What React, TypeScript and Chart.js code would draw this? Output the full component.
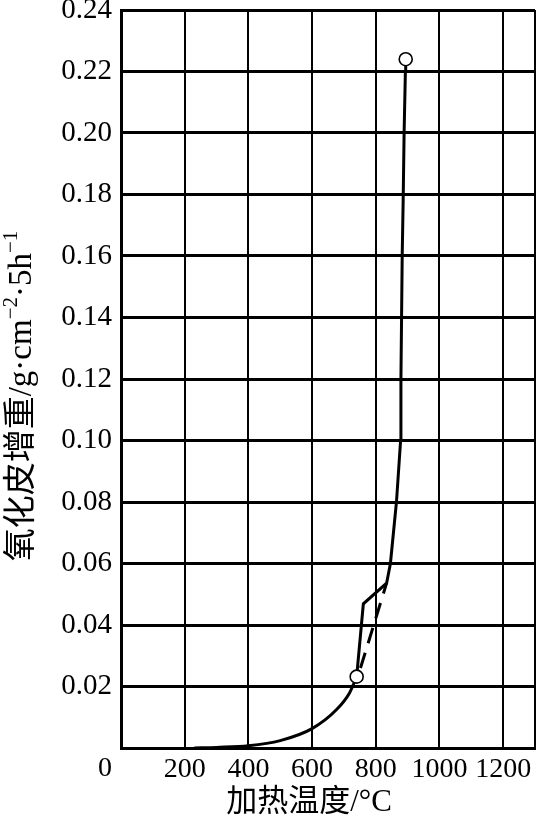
import React, { useEffect, useRef } from 'react';
import { Chart, registerables } from 'chart.js';

Chart.register(...registerables);

// ---- data ----
const lowTemp = [230, 300, 400, 500, 600, 677, 718, 740];
const lowGain = [0, 0.0002, 0.0007, 0.0024, 0.0063, 0.0125, 0.018, 0.0232];

const upTemp = [740, 761, 834, 846, 865, 878, 879, 881, 883, 886, 889, 893, 894];
const upGain = [0.0232, 0.0469, 0.0536, 0.06, 0.08, 0.1, 0.12, 0.14, 0.16, 0.178, 0.2, 0.22, 0.224];

const dashTemp = [752, 834];
const dashGain = [0.026, 0.0536];

const markTemp = [740, 894];
const markGain = [0.0232, 0.224];

const xTicks = [0, 200, 400, 600, 800, 1000, 1200, 1300];
const xTickLabels = ['', '200', '400', '600', '800', '1000', '1200', ''];
const yTicks = [0, 0.02, 0.04, 0.06, 0.08, 0.1, 0.12, 0.14, 0.16, 0.18, 0.2, 0.22, 0.24];
const yTickLabels = ['', '0.02', '0.04', '0.06', '0.08', '0.10', '0.12', '0.14', '0.16', '0.18', '0.20', '0.22', '0.24'];

const xTitle = '加热温度/°C';
const yTitleParts = [
  { t: '氧化皮增重/g·cm', sup: false },
  { t: '−2', sup: true },
  { t: '·5h', sup: false },
  { t: '−1', sup: true },
];
const originLabel = '0';

const pts = (xs: number[], ys: number[]) => xs.map((x, i) => ({ x, y: ys[i] }));

const SERIF = "'Liberation Serif', 'Noto Sans CJK SC', serif";

const textPlugin = {
  id: 'textPlugin',
  afterDraw(chart: any) {
    const ctx = chart.ctx;
    const xs = chart.scales.x;
    ctx.save();
    ctx.fillStyle = '#000';
    // origin "0"
    ctx.font = `28px ${SERIF}`;
    ctx.textAlign = 'center';
    ctx.textBaseline = 'middle';
    ctx.fillText(originLabel, xs.getPixelForValue(0) - 16, 769);
    // x title
    ctx.font = `31px ${SERIF}`;
    ctx.fillText(xTitle, 309, 803);
    // y title (rotated)
    ctx.translate(22, 396);
    ctx.rotate(-Math.PI / 2);
    const base = `33px ${SERIF}`;
    const sup = `21px ${SERIF}`;
    let total = 0;
    for (const p of yTitleParts) {
      ctx.font = p.sup ? sup : base;
      total += ctx.measureText(p.t).width;
    }
    let cx = -total / 2;
    ctx.textAlign = 'left';
    for (const p of yTitleParts) {
      ctx.font = p.sup ? sup : base;
      ctx.fillText(p.t, cx, p.sup ? -11 : 0);
      cx += ctx.measureText(p.t).width;
    }
    ctx.restore();
  },
};

export default function App() {
  const ref = useRef<HTMLCanvasElement>(null);
  useEffect(() => {
    document.body.style.margin = '0';
    const canvas = ref.current!;
    const chart = new Chart(canvas, {
      type: 'scatter',
      data: {
        datasets: [
          {
            data: pts(markTemp, markGain),
            showLine: false,
            pointRadius: 6.5,
            pointBackgroundColor: '#fff',
            pointBorderColor: '#000',
            pointBorderWidth: 1.6,
            order: 0,
          },
          {
            data: pts(lowTemp, lowGain),
            showLine: true,
            borderColor: '#000',
            borderWidth: 3,
            pointRadius: 0,
            cubicInterpolationMode: 'monotone',
            order: 1,
          },
          {
            data: pts(upTemp, upGain),
            showLine: true,
            borderColor: '#000',
            borderWidth: 3,
            pointRadius: 0,
            tension: 0,
            order: 1,
          },
          {
            data: pts(dashTemp, dashGain),
            showLine: true,
            borderColor: '#000',
            borderWidth: 3,
            borderDash: [16, 10],
            pointRadius: 0,
            order: 1,
          },
        ] as any,
      },
      options: {
        animation: false,
        responsive: false,
        devicePixelRatio: 1,
        layout: { autoPadding: false, padding: { top: 10, right: 1, left: 0, bottom: 0 } },
        plugins: { legend: { display: false }, tooltip: { enabled: false } },
        scales: {
          x: {
            type: 'linear',
            min: 0,
            max: 1300,
            afterBuildTicks: (s: any) => {
              s.ticks = xTicks.map((v) => ({ value: v }));
            },
            afterFit: (s: any) => {
              s.height = 74;
              s.paddingLeft = 0;
              s.paddingRight = 0;
            },
            border: { display: true, color: '#000', width: 3 },
            grid: {
              color: '#000',
              lineWidth: (c: any) => (c.tick && c.tick.value === 1300 ? 3 : 2),
              drawTicks: false,
            },
            ticks: {
              autoSkip: false,
              maxRotation: 0,
              minRotation: 0,
              padding: 5,
              color: '#000',
              font: { family: SERIF, size: 28 },
              callback: (_v: any, i: number) => xTickLabels[i],
            },
          },
          y: {
            type: 'linear',
            min: 0,
            max: 0.24,
            afterBuildTicks: (s: any) => {
              s.ticks = yTicks.map((v) => ({ value: v }));
            },
            afterFit: (s: any) => {
              s.width = 121;
              s.paddingTop = 0;
              s.paddingBottom = 0;
            },
            border: { display: true, color: '#000', width: 3 },
            grid: { color: '#000', lineWidth: 3, drawTicks: false },
            ticks: {
              padding: 9,
              color: '#000',
              font: { family: SERIF, size: 29 },
              callback: (_v: any, i: number) => yTickLabels[i],
            },
          },
        },
      } as any,
      plugins: [textPlugin],
    });
    return () => chart.destroy();
  }, []);
  return (
    <div style={{ width: 536, height: 822, background: '#fff' }}>
      <canvas ref={ref} width={536} height={822} style={{ width: 536, height: 822, display: 'block' }} />
    </div>
  );
}
